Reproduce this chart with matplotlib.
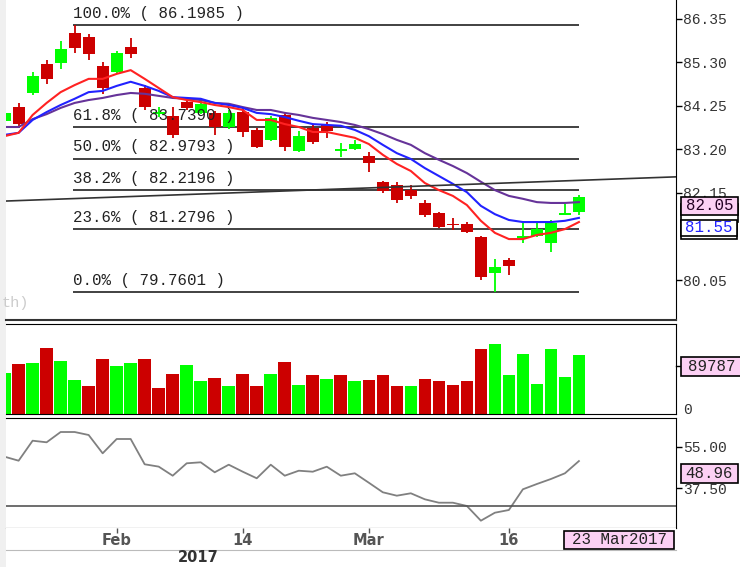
import numpy as np
import matplotlib
matplotlib.use('Agg')
import matplotlib.pyplot as plt
from matplotlib.patches import Rectangle
from matplotlib.lines import Line2D

# daily candles, 42 sessions ending 23 Mar 2017
opens = [83.89, 84.22, 84.57, 85.25, 85.28, 86.00, 85.90, 85.21, 85.07, 85.66,
         84.67, 84.05, 84.01, 84.35, 84.08, 84.08, 83.74, 84.10, 83.67, 83.43,
         84.03, 83.16, 83.72, 83.79, 83.18, 83.21, 83.04, 82.42, 82.34, 82.22,
         81.91, 81.67, 81.40, 81.40, 81.09, 80.22, 80.54, 81.08, 81.11, 80.95,
         81.63, 81.69]
highs = [84.13, 84.31, 85.07, 85.36, 85.81, 86.1985, 85.97, 85.31, 85.58, 85.88,
         84.75, 84.22, 84.22, 84.44, 84.44, 84.13, 84.15, 84.20, 83.72, 84.01,
         84.08, 83.64, 83.79, 83.86, 83.36, 83.43, 83.14, 82.44, 82.42, 82.34,
         81.98, 81.69, 81.55, 81.45, 81.11, 80.56, 80.58, 81.43, 81.43, 81.50,
         81.89, 82.10]
lows = [83.84, 83.72, 84.51, 84.77, 85.13, 85.53, 85.36, 84.53, 85.04, 85.40,
        84.15, 83.98, 83.48, 84.15, 84.05, 83.55, 83.69, 83.50, 83.24, 83.40,
        83.16, 83.14, 83.33, 83.48, 83.02, 83.19, 82.66, 82.15, 81.91, 82.01,
        81.57, 81.31, 81.26, 81.19, 80.05, 79.7601, 80.17, 80.95, 81.09, 80.73,
        81.62, 81.62]
closes = [84.08, 83.81, 84.97, 84.89, 85.63, 85.64, 85.49, 84.67, 85.52, 85.49,
          84.22, 84.09, 83.55, 84.19, 84.30, 83.74, 84.08, 83.62, 83.26, 83.96,
          83.26, 83.52, 83.38, 83.64, 83.20, 83.33, 82.87, 82.20, 81.98, 82.08,
          81.62, 81.33, 81.38, 81.21, 80.13, 80.37, 80.39, 81.10, 81.28, 81.43,
          81.66, 82.05]

# moving averages (red = fast, blue = mid, purple = slow)
ma_red = [83.52, 83.60, 84.03, 84.32, 84.58, 84.75, 84.90, 84.90, 85.02, 85.11,
          84.90, 84.68, 84.46, 84.39, 84.34, 84.27, 84.22, 84.15, 83.91, 83.91,
          83.81, 83.74, 83.62, 83.62, 83.55, 83.48, 83.33, 83.07, 82.85, 82.68,
          82.39, 82.22, 82.08, 81.86, 81.48, 81.19, 81.04, 81.04, 81.14, 81.19,
          81.28, 81.45]
ma_blue = [83.55, 83.60, 83.91, 84.10, 84.27, 84.42, 84.58, 84.61, 84.73, 84.83,
           84.73, 84.61, 84.46, 84.44, 84.42, 84.32, 84.27, 84.20, 84.08, 84.05,
           83.98, 83.89, 83.81, 83.79, 83.77, 83.67, 83.52, 83.31, 83.11, 82.97,
           82.75, 82.56, 82.37, 82.17, 81.84, 81.64, 81.50, 81.45, 81.45, 81.45,
           81.48, 81.55]
ma_purple = [83.74, 83.74, 83.93, 84.05, 84.20, 84.32, 84.39, 84.44, 84.51, 84.56,
             84.54, 84.49, 84.44, 84.42, 84.39, 84.32, 84.30, 84.22, 84.15, 84.15,
             84.08, 84.03, 83.96, 83.91, 83.86, 83.79, 83.69, 83.57, 83.43, 83.31,
             83.11, 82.95, 82.80, 82.63, 82.42, 82.22, 82.08, 82.01, 81.93, 81.91,
             81.91, 81.93]

volumes = [63300, 77000, 78500, 101400, 80700, 51700, 42600, 84200, 73000, 78500,
           84200, 40500, 61800, 75000, 50200, 55700, 42600, 61800, 42600, 61800,
           79100, 44100, 59800, 53700, 59800, 50200, 52200, 59800, 42600, 42600,
           53700, 50200, 44100, 50200, 99400, 107000, 59800, 91800, 46600, 99400,
           57200, 89787]
vol_up = [1, 0, 1, 0, 1, 1, 0, 0, 1, 1,
          0, 0, 0, 1, 1, 0, 1, 0, 0, 1,
          0, 1, 0, 1, 0, 1, 0, 0, 0, 1,
          0, 0, 0, 0, 0, 1, 1, 1, 1, 1,
          1, 1]

rsi = [50.79, 49.11, 57.52, 56.85, 61.18, 61.18, 59.92, 52.22, 58.24, 58.24,
       47.60, 46.62, 42.80, 48.02, 48.44, 44.23, 47.43, 44.48, 41.71, 47.43,
       42.80, 44.90, 44.48, 46.59, 42.80, 43.81, 39.85, 35.82, 34.39, 35.40,
       32.87, 31.44, 31.44, 30.07, 23.87, 27.23, 28.37, 37.08, 39.31, 41.41,
       43.81, 48.96]

fib_ratios = [1.0, 0.618, 0.5, 0.382, 0.236, 0.0]
trend_x = [0, 48]
trend_y = [81.955, 82.54]

price_ticks = [86.35, 85.30, 84.25, 83.20, 82.15, 80.05]
rsi_ticks = [55.00, 37.50]
date_ticks = [8, 17, 26, 36]
date_labels = ['Feb', '14', 'Mar', '16']
year_label = '2017'
last_date = '23 Mar2017'

RED = '#cc0000'
GREEN = '#00ff00'
PINK = '#fcd0f4'
MONO = 'Liberation Mono'

W, H = 740, 567


def fx(px):
    return px / W


def fy(py):
    return 1 - py / H


def label_box(x0, y0, x1, y1, text, fc, tc, z):
    fig.add_artist(Rectangle((fx(x0), fy(y1)), (x1 - x0) / W, (y1 - y0) / H,
                             transform=fig.transFigure, fc=fc, ec='black',
                             lw=1.2, zorder=z, clip_on=False))
    if text:
        fig.text(fx((x0 + x1) / 2), fy((y0 + y1) / 2), text, ha='center',
                 va='center', color=tc, family=MONO, fontsize=11.3, zorder=z + 1)


o = np.array(opens)
h = np.array(highs)
l = np.array(lows)
c = np.array(closes)
n = len(c)
x = np.arange(n)
xlim = (0.1, 47.93)

fig = plt.figure(figsize=(W / 100, H / 100), dpi=100)
fig.patch.set_facecolor('white')
fig.add_artist(Rectangle((0, 0), fx(6), 1, transform=fig.transFigure,
                         fc='#f0f0f0', ec='none', zorder=-1))

ax_p = fig.add_axes([fx(6), fy(320), 670 / W, 320 / H])
ax_v = fig.add_axes([fx(6), fy(414.3), 670 / W, 90.3 / H])
ax_r = fig.add_axes([fx(6), fy(528.3), 670 / W, 110.6 / H])
ax_d = fig.add_axes([fx(6), fy(550), 670 / W, 21.7 / H])

for ax in (ax_p, ax_v, ax_r, ax_d):
    ax.set_xlim(*xlim)
    ax.set_xticks([])
    ax.spines['left'].set_visible(False)
    ax.yaxis.tick_right()
    ax.tick_params(axis='y', direction='out', length=4, width=1, pad=1,
                   labelsize=10.5, labelcolor='#333333')

# ---- price panel
up = c >= o
cols = np.where(up, GREEN, RED)
body_h = np.maximum(np.abs(c - o), 0.035)
body_lo = (o + c) / 2 - body_h / 2
ax_p.vlines(x, l, h, colors=cols, lw=1.3, zorder=3)
ax_p.bar(x, body_h, bottom=body_lo, width=0.86, color=cols, lw=0, zorder=3)

ax_p.plot(x, ma_purple, color='#663399', lw=1.5, zorder=4)
ax_p.plot(x, ma_blue, color='#2222ff', lw=1.5, zorder=4)
ax_p.plot(x, ma_red, color='#ff2222', lw=1.5, zorder=4)

# fibonacci retracement between the swing high and the swing low
hi, lo = h.max(), l.min()
i_hi = int(h.argmax())
for r in fib_ratios:
    lev = lo + r * (hi - lo)
    ax_p.hlines(lev, i_hi - 0.12, n - 1, color='#333333', lw=1.3, zorder=2)
    ax_p.annotate(f"{r * 100:.1f}% ( {lev:.4f} )", (i_hi - 0.12, lev),
                  xytext=(0, 3), textcoords='offset points', va='bottom',
                  ha='left', family=MONO, fontsize=11.3, color='#222222',
                  zorder=6)

ax_p.plot(trend_x, trend_y, color='#333333', lw=1.2, zorder=5)

ax_p.set_ylim(79.09, 86.80)
ax_p.set_yticks(price_ticks)
ax_p.set_yticklabels([f"{t:.2f}" for t in price_ticks], family=MONO)
ax_p.spines['top'].set_visible(False)
ax_p.spines['bottom'].set_color('#333333')
ax_p.spines['bottom'].set_linewidth(1.5)

fig.text(fx(2), fy(303), 'th)', family=MONO, fontsize=11, color='#cccccc',
         va='center', ha='left')

# ---- volume panel
vcols = [GREEN if u else RED for u in vol_up]
ax_v.bar(x, volumes, width=0.9, color=vcols, lw=0)
ax_v.set_ylim(0, 137400)
ax_v.set_yticks([])
fig.text(fx(683), fy(410), '0', family=MONO, fontsize=10.5, color='#333333',
         va='center', ha='left')
fig.add_artist(Line2D([fx(676), fx(681)], [fy(366), fy(366)], color='black',
                      lw=1, transform=fig.transFigure))

# ---- rsi panel
ax_r.plot(x, rsi, color='#808080', lw=1.3)
ax_r.axhline(30, color='#555555', lw=1.2)
ax_r.set_ylim(20.67, 67.2)
ax_r.set_yticks(rsi_ticks)
ax_r.set_yticklabels([f"{t:.2f}" for t in rsi_ticks], family=MONO)

# ---- date strip
ax_d.set_ylim(0, 1)
ax_d.set_yticks([])
for s in ('top', 'right'):
    ax_d.spines[s].set_visible(False)
ax_d.spines['bottom'].set_color('#bbbbbb')
ax_d.vlines(date_ticks, 0.8, 1.0, color='#555555', lw=1)
for i, lab in zip(date_ticks, date_labels):
    ax_d.text(i, 0.42, lab, ha='center', va='center', fontsize=10.5,
              fontweight='bold', color='#555555')
fig.text(fx(198), fy(557), year_label, ha='center', va='center', fontsize=10.5,
         fontweight='bold', color='#333333')

# ---- value boxes on the right (the red and purple ones sit behind the others)
label_box(681, 221, 737, 239, '', 'white', '#ff2222', 10)
label_box(681, 204, 738, 222, '', 'white', '#663399', 12)
label_box(681, 220, 737, 236, f"{ma_blue[-1]:.2f}", 'white', '#2222ff', 14)
label_box(681, 197, 738, 215, f"{closes[-1]:.2f}", PINK, '#220022', 16)
label_box(681, 357, 742, 376, f"{volumes[-1]}", PINK, '#222222', 10)
label_box(681, 464, 738, 483, f"{rsi[-1]:.2f}", PINK, '#222222', 10)
label_box(564, 531, 674, 549, last_date, PINK, '#222222', 10)

fig.savefig('out.png', dpi=100)
